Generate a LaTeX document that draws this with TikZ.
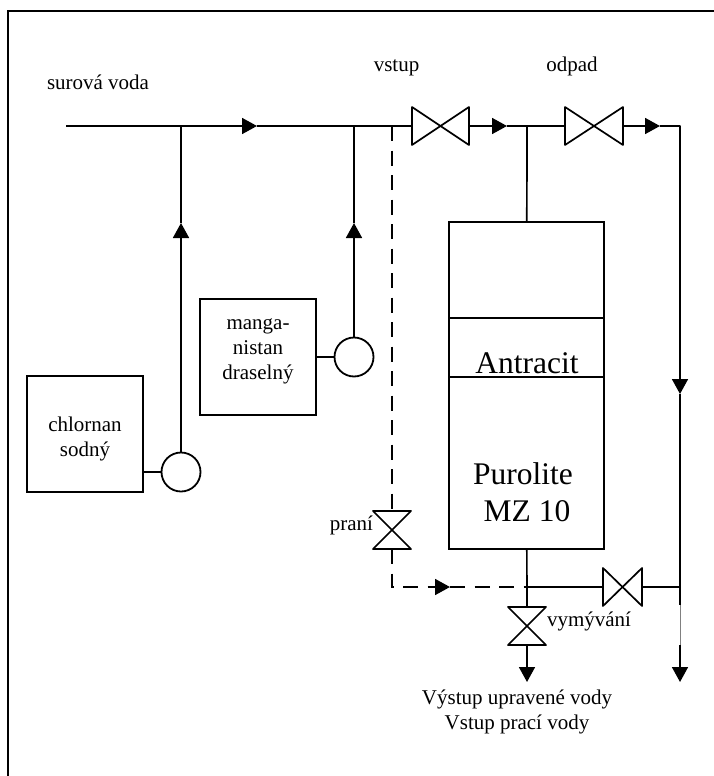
\documentclass[tikz,border=0pt]{standalone}
\usepackage{fontspec}
\setmainfont{Liberation Serif}
\usetikzlibrary{arrows.meta}

\begin{document}
\begin{tikzpicture}[
            x=1pt, y=-1pt,
            box/.style={draw, rectangle, line width=2pt, inner sep=0pt, outer sep=0pt},
            pump/.style={draw, circle, line width=1.8pt, minimum size=39pt, inner sep=0pt, outer sep=0pt},
            pipe/.style={line width=1.7pt},
            wash/.style={line width=1.7pt, dash pattern=on 15pt off 9.5pt},
            flow/.style={-{Triangle[length=15pt, width=16pt]}},
            valveh/.style={minimum width=#1, minimum height=38pt, inner sep=0pt, outer sep=0pt,
                       append after command={\pgfextra{\draw[pipe, line join=round] (\tikzlastnode.north west) -- (\tikzlastnode.south east)
                       -- (\tikzlastnode.north east) -- (\tikzlastnode.south west) -- cycle;}}},
            valvev/.style={minimum width=38pt, minimum height=38pt, inner sep=0pt, outer sep=0pt,
                       append after command={\pgfextra{\draw[pipe, line join=round] (\tikzlastnode.north west) -- (\tikzlastnode.south east)
                       -- (\tikzlastnode.south west) -- (\tikzlastnode.north east) -- cycle;}}},
            txt/.style={inner sep=0pt, outer sep=0pt, font=\fontsize{21}{25}\selectfont, align=center},
            bigtxt/.style={inner sep=0pt, outer sep=0pt, font=\fontsize{31.5}{37}\selectfont, align=center}
        ]
            \useasboundingbox (0,0) rectangle (714,776);
            % frame, only two sides show
            \coordinate (frameR) at (714,11);
            \coordinate (frameC) at (8,11);
            \coordinate (frameB) at (8,776);
            \draw[line width=2pt] (frameR) -- (frameC) -- (frameB);

            \node[box, minimum width=116pt, minimum height=116pt] (chlor) at (85,434) {};
            \node[box, minimum width=116pt, minimum height=116pt] (mangan) at (258,357) {};
            \node[pump] (pumpA) at (181,472) {};
            \node[pump] (pumpB) at (354,357) {};
            \node[txt] (chlorT) at (85,439) {chlornan\\sodný};
            \node[txt] (manganT) at (258,351) {manga-\\nistan\\draselný};

            \node[valveh=57pt] (vstup) at (440.5,126) {};
            \node[valveh=58pt] (odpad) at (594,126) {};
            \node[valveh=39pt] (bypass) at (622.5,587) {};
            \node[valvev] (prani) at (392,530) {};
            \node[valvev] (vymyv) at (527,626) {};

            \node[box, minimum width=155pt, minimum height=327pt] (tank) at (526.5,385.5) {};
            \coordinate (tankAL) at (449,318);
            \coordinate (tankAR) at (604,318);
            \coordinate (tankBL) at (449,377);
            \coordinate (tankBR) at (604,377);
            \draw[line width=1.3pt] (tankAL) -- (tankAR);
            \draw[line width=2pt] (tankBL) -- (tankBR);
            \node[bigtxt, anchor=base] (antracit) at (527,373) {Antracit};
            \node[bigtxt] (purolite) at (523,492) {Purolite\\~MZ 10};

            % main line
            \coordinate (start) at (66,126);
            \coordinate (tipA) at (257,126);
            \coordinate (tipB) at (507,126);
            \coordinate (tipC) at (660,126);
            \coordinate (joinA) at (181,126);
            \coordinate (joinB) at (354,126);
            \coordinate (joinC) at (392,126);
            \coordinate (joinD) at (527,126);
            \coordinate (corner) at (680,126);
            \coordinate (tipD) at (181,223);
            \coordinate (tipE) at (354,223);
            \coordinate (tipF) at (680,394);
            \coordinate (joinE) at (680,587);
            \coordinate (blackEnd) at (680,605);
            \coordinate (blackBack) at (680,645);
            \coordinate (tipG) at (680,682);
            \coordinate (tipH) at (527,682);
            \coordinate (joinF) at (527,587);
            \coordinate (bend) at (392,587);
            \coordinate (tipI) at (450,587);
            \draw[pipe, flow] (start) -- (tipA);
            \draw[pipe] (tipA) -- (vstup);
            \draw[pipe, flow] (vstup) -- (tipB);
            \draw[pipe] (tipB) -- (odpad);
            \draw[pipe, flow] (odpad) -- (tipC);
            \draw[pipe, flow, line join=round] (tipC) -- (corner) -- (tipF);
            \draw[pipe] (tipF) -- (blackEnd);
            \draw[gray, line width=0.8pt] (blackEnd) -- (blackBack);
            \draw[pipe, flow] (blackBack) -- (tipG);

            % dosing
            \draw[pipe] (chlor.east |- pumpA) -- (pumpA);
            \draw[pipe] (mangan) -- (pumpB);
            \draw[pipe, flow] (pumpA) -- (tipD);
            \draw[pipe] (tipD) -- (joinA);
            \draw[pipe, flow] (pumpB) -- (tipE);
            \draw[pipe] (tipE) -- (joinB);

            % tank
            \draw[pipe] (joinD) -- (tank);
            \draw[pipe] (tank) -- (vymyv);
            \draw[pipe, flow] (vymyv) -- (tipH);
            \draw[pipe] (joinF) -- (bypass);
            \draw[pipe] (bypass) -- (joinE);

            % wash water
            \draw[wash] (joinC) -- (prani);
            \draw[wash, flow] (prani) -- (bend) -- (tipI);
            \draw[wash] (tipI) -- (joinF);

            \node[txt, anchor=base west] (surova) at (47,89) {surová voda};
            \node[txt, anchor=base] (vstupT) at (396.5,71) {vstup};
            \node[txt, anchor=base] (odpadT) at (572,71) {odpad};
            \node[txt, anchor=base east] (praniT) at (373,530) {praní};
            \node[txt, anchor=base west] (vymyvT) at (547,626) {vymývání};
            \node[txt] (vystup) at (517,712) {Výstup upravené vody\\Vstup prací vody};
        \end{tikzpicture}
\end{document}
